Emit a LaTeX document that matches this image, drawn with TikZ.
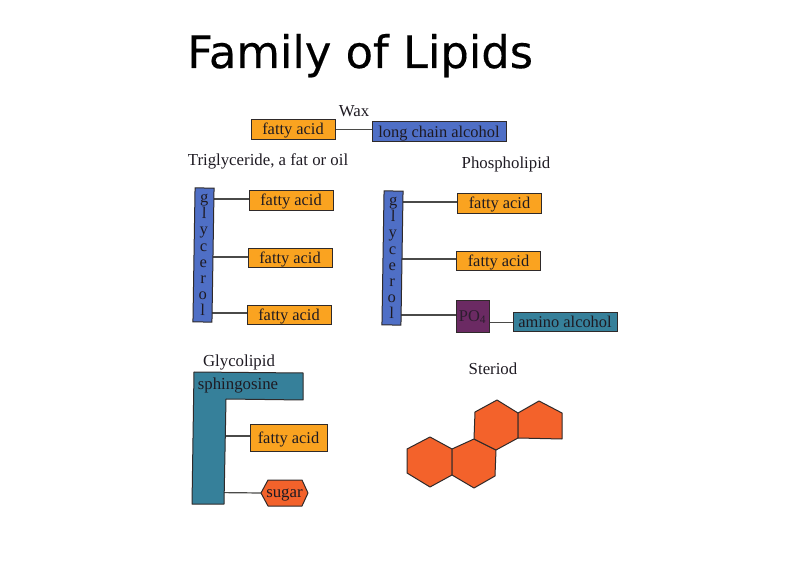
\documentclass[tikz,border=0pt]{standalone}
\usepackage{fontspec}
\setmainfont{Liberation Serif}
\newfontfamily\titlefont[FakeBold=0.3]{DejaVu Sans}
\usetikzlibrary{backgrounds}
\definecolor{fattyc}{HTML}{FAA320}
\definecolor{blueb}{HTML}{4F6FC6}
\definecolor{tealb}{HTML}{36809A}
\definecolor{purpb}{HTML}{6B2A63}
\definecolor{redb}{HTML}{F3622B}
\definecolor{edgec}{HTML}{2F2A2A}
\definecolor{inkc}{HTML}{1E1A22}
\definecolor{linkc}{HTML}{4A4A48}
\tikzset{
  boxb/.style={draw=edgec,line width=1pt,inner sep=0pt,text=inkc,font=\fontsize{16.4}{16.2}\selectfont,align=center},
  onel/.style={boxb,text height=13.5pt,text depth=2.5pt},
  fatty/.style={onel,fill=fattyc,minimum width=84pt,minimum height=19.5pt},
  glyc/.style={boxb,fill=blueb,minimum width=19pt,minimum height=134pt,rotate=-0.9},
  lab/.style={inner sep=0pt,anchor=base,text=inkc,font=\fontsize{16.8}{18}\selectfont},
  link/.style={draw=linkc,line width=1.2pt},
  ring/.style={draw=edgec,line width=1pt,fill=redb,line join=round}
}
\begin{document}
\begin{tikzpicture}[x=1pt,y=-1pt]
\useasboundingbox (0,0) rectangle (793,577);
\node[inner sep=0pt,anchor=base west,font=\titlefont\fontsize{44.8}{48}\selectfont] (title) at (187,68) {Family of Lipids};
% Wax
\node[lab] (waxl) at (354,117) {Wax};
\node[fatty] (wf) at (293,129.5) {fatty acid};
\node[onel,fill=blueb,minimum width=134pt,minimum height=20pt] (wa) at (439,132) {long chain alcohol};
% Triglyceride
\node[lab] (tgl) at (268,166) {Triglyceride, a fat or oil};
\node[glyc] (tg) at (203.5,255) {g\\l\\y\\c\\e\\r\\o\\l};
\node[fatty] (tf1) at (291,200.5) {fatty acid};
\node[fatty] (tf2) at (290,258) {fatty acid};
\node[fatty] (tf3) at (289,315) {fatty acid};
% Phospholipid
\node[lab] (phl) at (506,169) {Phospholipid};
\node[glyc] (pg) at (392.5,258) {g\\l\\y\\c\\e\\r\\o\\l};
\node[fatty] (pf1) at (499.5,203.5) {fatty acid};
\node[fatty] (pf2) at (498.5,261) {fatty acid};
\node[boxb,fill=purpb,text=inkc!80!purpb,minimum width=33pt,minimum height=32pt] (po) at (472.5,317) {PO\textsubscript{4}};
\node[onel,fill=tealb,minimum width=104pt,minimum height=19pt] (am) at (565,322.5) {amino alcohol};
% Glycolipid
\node[lab] (gll) at (239,367) {Glycolipid};
\draw[draw=edgec,line width=1pt,fill=tealb,line join=round] (194,372) -- (303,373) -- (303,400) -- (226,399) -- (224,504) -- (192,504) -- cycle;
\node[lab] (sph) at (238,390) {sphingosine};
\node[fatty,minimum width=77pt,minimum height=27pt] (gf) at (288.5,437.5) {fatty acid};
\draw[ring] (261,493) -- (268,480) -- (302,480) -- (308,493) -- (302,506) -- (268,506) -- cycle;
\coordinate (sugl) at (261,493);
\node[lab] (sug) at (284.5,497.5) {sugar};
% Steroid
\node[lab] (stl) at (493,374) {Steriod};
\draw[ring] (407,449) -- (430,437) -- (452,449) -- (452,475) -- (430,487) -- (407,473) -- cycle;
\draw[ring] (452,449) -- (474,439) -- (496,450) -- (495,476) -- (474,488) -- (452,475) -- cycle;
\draw[ring] (474,439) -- (475,412) -- (497,400) -- (518,413) -- (518,438) -- (496,450) -- cycle;
\draw[ring] (518,413) -- (539,401) -- (562,413) -- (562,439) -- (518,438) -- cycle;
% Connectors
\begin{scope}[on background layer]
\draw[link] (wf.east) -- (wf.east -| wa.west);
\draw[link] ([yshift=1.5pt]tg |- tf1.west) -- ([yshift=1.5pt]tf1.west);
\draw[link] ([yshift=1pt]tg |- tf2.west) -- ([yshift=1pt]tf2.west);
\draw[link] ([yshift=2pt]tg |- tf3.west) -- ([yshift=2pt]tf3.west);
\draw[link] ([yshift=1.5pt]pg |- pf1.west) -- ([yshift=1.5pt]pf1.west);
\draw[link] ([yshift=2pt]pg |- pf2.west) -- ([yshift=2pt]pf2.west);
\draw[link] ([yshift=2pt]pg |- po.west) -- ([yshift=2pt]po.west);
\draw[link] (po.east |- am.west) -- (am.west);
\draw[link] (215,436) -- (gf.west |- 0,436);
\draw[link] (215,492.5) -- (sugl);
\end{scope}
\end{tikzpicture}
\end{document}
